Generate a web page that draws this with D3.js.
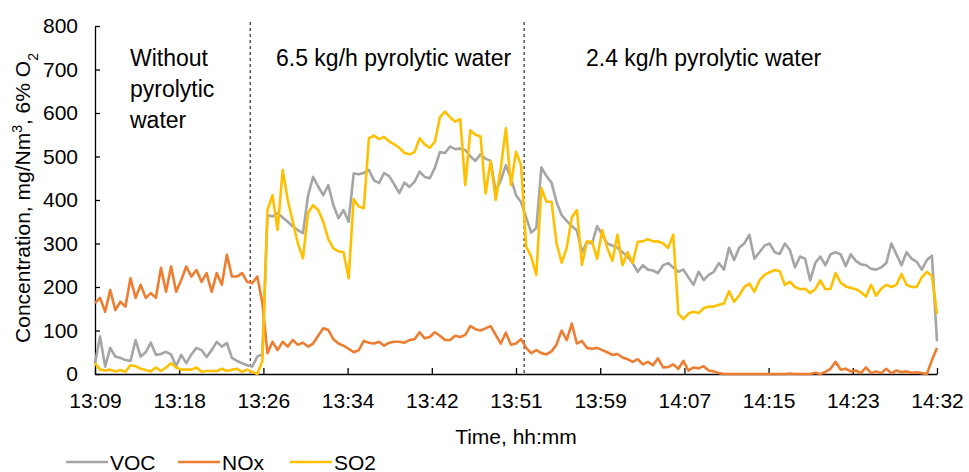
<!DOCTYPE html>
<meta charset="utf-8">
<script src="https://d3js.org/d3.v7.min.js"></script>
<style>
  body { margin: 0; background: #fff; }
  svg text { font-family: "Liberation Sans", Arial, sans-serif; fill: #000; }
  .note { font-family: Lato, "Open Sans", sans-serif; font-size: 23px; }
</style>
<div id="chart"></div>
<script>

// readings every 30 s, starting 13:09
var step = 0.5;
var tickLabels = ["13:09", "13:18", "13:26", "13:34", "13:42", "13:51", "13:59", "14:07", "14:15", "14:23", "14:32"];
var tickEvery = 8.3;   // minutes between labelled ticks
var dividers = [15.3, 42.3];

var voc = [25, 86, 17, 60, 40, 37, 32, 30, 78, 40, 50, 72, 44, 46, 51, 45, 18, 44, 25, 45,
  60, 55, 39, 55, 74, 63, 71, 37, 30, 25, 20, 17, 40, 46, 365, 362, 370, 360, 350, 339,
  331, 324, 410, 453, 431, 411, 434, 388, 358, 377, 350, 461, 459, 462, 469, 445, 439, 462, 455, 436,
  416, 440, 430, 442, 465, 453, 450, 474, 510, 508, 523, 517, 518, 515, 500, 490, 505, 495, 490, 420,
  445, 480, 450, 411, 395, 360, 325, 335, 475, 455, 440, 395, 365, 352, 340, 330, 280, 304, 300, 340,
  320, 300, 295, 290, 280, 270, 255, 235, 250, 240, 238, 232, 250, 255, 245, 235, 240, 222, 205, 235,
  216, 228, 235, 255, 240, 290, 262, 290, 300, 320, 265, 280, 295, 300, 280, 276, 300, 285, 245, 270,
  265, 215, 255, 270, 250, 275, 280, 275, 248, 275, 260, 252, 250, 242, 240, 245, 255, 300, 275, 250,
  280, 265, 258, 240, 262, 272, 75];

var nox = [163, 175, 143, 193, 147, 166, 155, 220, 175, 205, 175, 186, 175, 244, 189, 247, 189, 216, 247, 224,
  239, 212, 232, 189, 232, 205, 274, 224, 224, 232, 212, 209, 224, 163, 48, 74, 55, 74, 63, 78,
  67, 72, 63, 70, 88, 105, 101, 80, 70, 65, 58, 50, 55, 76, 72, 70, 74, 65, 72, 74,
  74, 72, 78, 80, 96, 82, 85, 96, 88, 78, 78, 88, 85, 90, 110, 103, 100, 105, 110, 90,
  70, 95, 67, 70, 80, 60, 48, 55, 48, 45, 52, 68, 100, 78, 116, 70, 76, 60, 58, 60,
  55, 50, 44, 46, 38, 34, 28, 34, 22, 28, 20, 36, 15, 16, 22, 12, 30, 8, 15, 13,
  18, 8, 6, 2, 0, 0, 0, 0, 0, 0, 0, 0, 0, 0, 0, 0, 0, 1, 0, 0,
  0, 0, 3, 0, 5, 12, 28, 10, 12, 6, 8, 2, 15, 2, 6, 2, 12, 2, 8, 4,
  6, 3, 4, 2, 0, 32, 60];

var so2 = [25, 10, 8, 10, 6, 9, 5, 20, 18, 12, 9, 6, 15, 7, 15, 25, 15, 10, 10, 10,
  15, 5, 7, 7, 7, 12, 7, 10, 12, 5, 10, 5, 0, 30, 377, 411, 331, 469, 400, 350,
  300, 266, 370, 388, 377, 350, 310, 289, 282, 280, 220, 402, 385, 381, 542, 548, 540, 545, 535, 528,
  520, 508, 505, 510, 542, 528, 520, 534, 590, 603, 590, 580, 586, 434, 560, 550, 546, 415, 490, 400,
  473, 565, 434, 511, 480, 293, 270, 228, 427, 396, 396, 300, 256, 290, 360, 377, 251, 305, 304, 265,
  331, 290, 260, 320, 250, 280, 255, 304, 305, 310, 305, 305, 300, 290, 320, 139, 126, 139, 143, 140,
  151, 155, 155, 159, 162, 190, 166, 180, 200, 208, 189, 215, 228, 234, 239, 236, 205, 212, 200, 195,
  196, 186, 195, 215, 195, 196, 232, 210, 201, 198, 195, 188, 178, 205, 180, 196, 205, 200, 205, 230,
  205, 200, 200, 222, 235, 225, 138];

var series = [
  {name: "VOC", values: voc, color: "#A5A5A5"},
  {name: "NOx", values: nox, color: "#ED7D31"},
  {name: "SO2", values: so2, color: "#FFC000"}
];

var width = 969, height = 472;
var margin = {top: 26, right: 32, bottom: 98, left: 95};
var fs = "21px";

var svg = d3.select("#chart").append("svg")
  .attr("width", width)
  .attr("height", height);

var x = d3.scaleLinear()
  .domain([0, (voc.length - 1) * step])
  .range([margin.left, width - margin.right]);

var y = d3.scaleLinear()
  .domain([0, 800])
  .range([height - margin.bottom, margin.top]);

// y axis, ticks pointing inward
var yAxis = svg.append("g")
  .attr("transform", "translate(" + margin.left + ",0)")
  .call(d3.axisRight(y).tickValues(d3.range(0, 801, 100)).tickSize(5).tickSizeOuter(0).tickFormat(d3.format("d")));
yAxis.select(".domain").attr("stroke", "#000").attr("stroke-width", 1.3);
yAxis.selectAll(".tick line").attr("stroke", "#000").attr("stroke-width", 1.3);
yAxis.selectAll(".tick text")
  .attr("x", -17)
  .attr("text-anchor", "end")
  .style("font-size", fs);

// x axis, ticks pointing up
var xAxis = svg.append("g")
  .attr("transform", "translate(0," + y(0) + ")")
  .call(d3.axisTop(x)
    .tickValues(tickLabels.map(function(d, i) { return i * tickEvery; }))
    .tickSize(6)
    .tickSizeOuter(0)
    .tickFormat(function(d, i) { return tickLabels[i]; }));
xAxis.select(".domain").attr("stroke", "#000").attr("stroke-width", 1.3);
xAxis.selectAll(".tick line").attr("stroke", "#000").attr("stroke-width", 1.3);
xAxis.selectAll(".tick text")
  .attr("y", 34)
  .attr("dy", null)
  .style("font-size", fs);

// phase dividers
svg.selectAll(".divider")
  .data(dividers)
  .enter()
  .append("line")
    .attr("class", "divider")
    .attr("x1", function(d) { return x(d); })
    .attr("x2", function(d) { return x(d); })
    .attr("y1", y(800) - 4)
    .attr("y2", y(0))
    .attr("stroke", "#000")
    .attr("stroke-width", 1)
    .attr("stroke-dasharray", "3,3");

// the three series
var line = d3.line()
  .x(function(d, i) { return x(i * step); })
  .y(function(d) { return y(d); });

svg.selectAll(".series")
  .data(series)
  .enter()
  .append("path")
    .attr("class", "series")
    .attr("d", function(d) { return line(d.values); })
    .attr("fill", "none")
    .attr("stroke", function(d) { return d.color; })
    .attr("stroke-width", 2.6)
    .attr("stroke-linejoin", "round");

// phase notes
var notes = svg.append("g").attr("class", "note");
var n1 = notes.append("text").attr("x", 130).attr("y", 66);
["Without", "pyrolytic", "water"].forEach(function(t, i) {
  n1.append("tspan").attr("x", 130).attr("dy", i === 0 ? 0 : 31).text(t);
});
notes.append("text").attr("x", 276).attr("y", 66).text("6.5 kg/h pyrolytic water");
notes.append("text").attr("x", 586).attr("y", 66).text("2.4 kg/h pyrolytic water");

// axis titles
var yt = svg.append("text")
  .attr("transform", "translate(30,198) rotate(-90)")
  .attr("text-anchor", "middle")
  .style("font-size", fs);
yt.append("tspan").text("Concentration, mg/Nm");
yt.append("tspan").attr("baseline-shift", "super").style("font-size", "14px").text("3");
yt.append("tspan").text(", 6% O");
yt.append("tspan").attr("baseline-shift", "sub").style("font-size", "14px").text("2");

svg.append("text")
  .attr("x", (x.range()[0] + x.range()[1]) / 2)
  .attr("y", 444)
  .attr("text-anchor", "middle")
  .style("font-size", fs)
  .text("Time, hh:mm");

// legend
var legend = svg.selectAll(".legend")
  .data(series)
  .enter()
  .append("g")
    .attr("class", "legend")
    .attr("transform", function(d, i) { return "translate(" + (66 + i * 112) + ",462)"; });
legend.append("line")
  .attr("x1", 0).attr("x2", 42)
  .attr("stroke", function(d) { return d.color; })
  .attr("stroke-width", 2.6);
legend.append("text")
  .attr("x", 44)
  .attr("y", 8)
  .style("font-size", fs)
  .text(function(d) { return d.name; });

</script>
